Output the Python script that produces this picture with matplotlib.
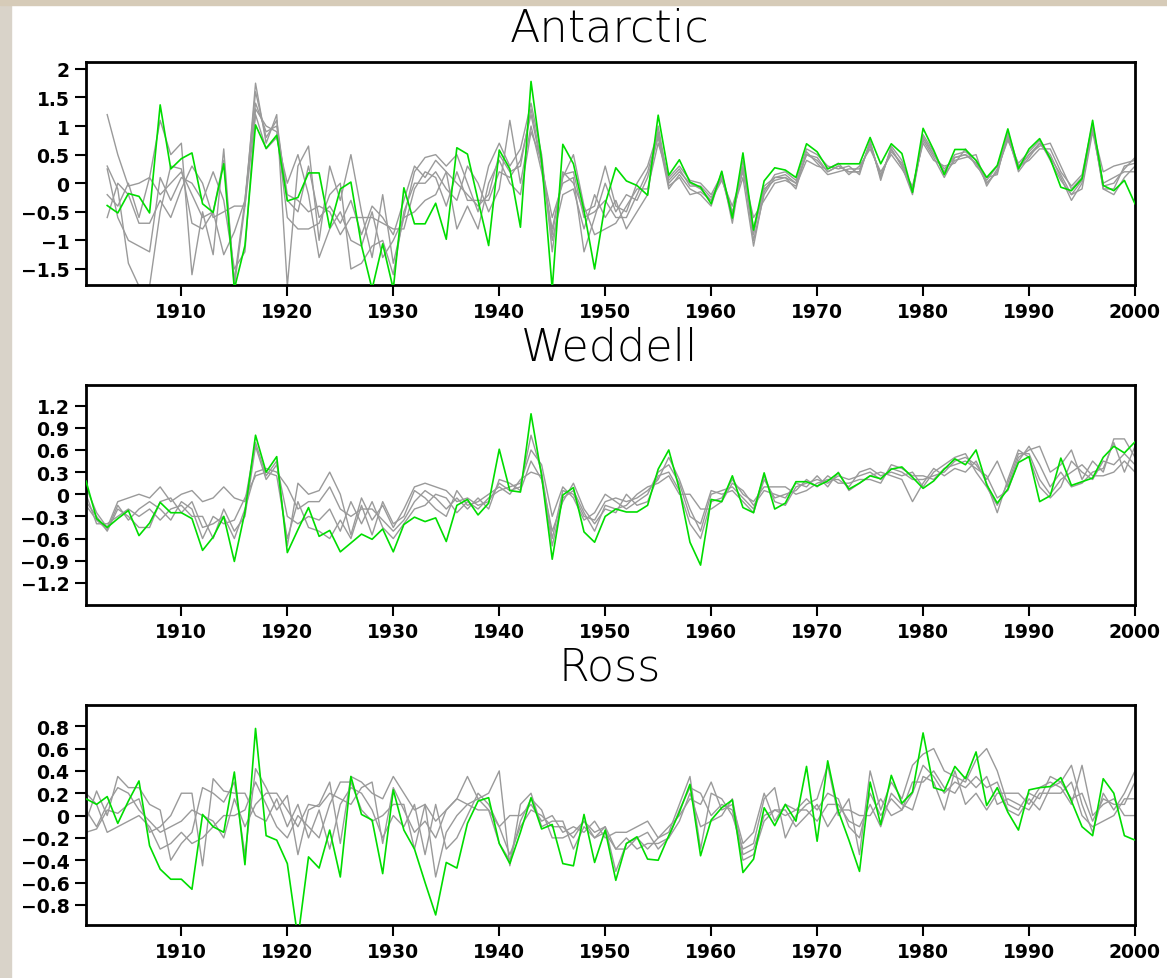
import numpy as np
import matplotlib
matplotlib.use('Agg')
import matplotlib.pyplot as plt
from matplotlib.patches import Rectangle

# ---- data ----
years_ant = np.arange(1903, 2001)
years_wr = np.arange(1901, 2001)

ant_green = [
    -0.39, -0.52, -0.18, -0.23, -0.52, 1.37, 0.25,
    0.43, 0.53, -0.36, -0.51, 0.34, -1.85, -1.09, 1.02, 0.61, 0.84,
    -0.31, -0.25, 0.18, 0.18, -0.78, -0.10, 0.02, -1.09, -1.85, -1.06,
    -1.85, -0.08, -0.71, -0.71, -0.35, -0.98, 0.62, 0.51, -0.30, -1.09,
    0.58, 0.25, -0.77, 1.78, 0.40, -1.85, 0.68, 0.34, -0.48, -1.50,
    -0.36, 0.27, 0.04, -0.04, -0.21, 1.19, 0.14, 0.41, 0.02, -0.07,
    -0.36, 0.21, -0.61, 0.53, -0.82, 0.04, 0.27, 0.23, 0.10, 0.69,
    0.55, 0.25, 0.34, 0.34, 0.34, 0.80, 0.34, 0.69, 0.52, -0.16,
    0.96, 0.58, 0.15, 0.59, 0.59, 0.40, 0.10, 0.31, 0.95, 0.25,
    0.60, 0.78, 0.43, -0.07, -0.13, 0.08, 1.10, -0.04, -0.13, 0.05,
    -0.36]

ant_gray1 = [
    1.2, 0.5, -0.05, 0.0, 0.1, 1.1, 0.5,
    0.7, -1.6, -0.5, -1.25, 0.6, -1.8, -0.4, 1.75, 0.7, 1.2,
    -1.8, 0.3, 0.65, -1.0, 0.3, -0.3, 0.5, -0.5, -1.3, -0.2,
    -1.4, -0.6, 0.2, 0.45, 0.5, 0.3, 0.5, 0.0, -0.5, 0.3,
    0.7, 0.3, 0.6, 1.4, 0.5, -1.2, 0.2, 0.0, -0.5, -0.4,
    0.3, -0.4, -0.5, 0.0, 0.3, 0.9, 0.0, 0.2, 0.0, -0.1,
    -0.3, 0.1, -0.6, 0.3, -1.0, -0.2, 0.1, 0.15, 0.0, 0.5,
    0.4, 0.2, 0.3, 0.2, 0.2, 0.7, 0.1, 0.6, 0.3, -0.2,
    0.8, 0.5, 0.2, 0.5, 0.55, 0.4, 0.0, 0.2, 0.85, 0.2,
    0.45, 0.7, 0.5, 0.1, -0.3, 0.0, 1.0, -0.1, -0.2, 0.1,
    0.3]
ant_gray2 = [
    0.3, -0.1, -1.4, -1.8, -1.8, -0.5, 0.3,
    0.25, -0.7, -0.8, -0.5, -1.25, -0.85, -0.3, 1.4, 0.9, 1.0,
    -0.2, -0.3, -0.5, -0.4, -0.5, -0.9, -0.6, -0.6, -0.6, -0.7,
    -0.8, -0.8, -0.1, 0.2, 0.1, -0.4, 0.2, -0.3, -0.3, -0.3,
    0.2, 0.1, 0.4, 1.2, 0.3, -0.6, 0.0, 0.1, -1.2, -0.6,
    0.0, -0.5, -0.2, -0.3, 0.1, 0.8, -0.1, 0.15, -0.1, -0.2,
    -0.4, 0.2, -0.7, 0.4, -0.8, -0.1, 0.05, 0.1, -0.1, 0.55,
    0.35, 0.15, 0.2, 0.25, 0.25, 0.65, 0.15, 0.55, 0.35, -0.1,
    0.75, 0.45, 0.1, 0.45, 0.5, 0.35, 0.05, 0.3, 0.8, 0.25,
    0.5, 0.65, 0.7, 0.3, -0.1, 0.1, 0.95, 0.2, 0.3, 0.35,
    0.4]
ant_gray3 = [
    0.25, -0.6, -1.0, -1.1, -1.2, 0.1, -0.3,
    0.1, 0.0, -0.3, 0.2, -0.3, -1.5, -1.2, 1.3, 1.0, 0.9,
    -0.6, -0.8, -0.8, -0.7, -0.2, 0.0, -1.5, -1.4, -1.1, -1.0,
    -1.6, -0.5, 0.0, 0.0, 0.2, -0.1, -0.3, 0.3, 0.0, -0.5,
    -0.1, 1.1, 0.0, 1.0, 0.2, -0.8, 0.1, 0.5, -0.4, -0.9,
    -0.8, -0.7, -0.4, -0.1, -0.1, 0.7, 0.1, 0.3, 0.05, 0.0,
    -0.2, 0.15, -0.5, 0.1, -1.1, -0.15, 0.15, 0.2, 0.05, 0.6,
    0.5, 0.3, 0.25, 0.3, 0.15, 0.75, 0.05, 0.65, 0.4, -0.15,
    0.85, 0.55, 0.15, 0.4, 0.45, 0.5, -0.05, 0.25, 0.75, 0.35,
    0.55, 0.75, 0.4, 0.05, -0.2, -0.1, 0.9, 0.0, 0.1, 0.2,
    0.2]
ant_gray4 = [
    -0.6, 0.0, -0.2, -0.7, -0.7, -0.3, -0.6,
    -0.1, 0.3, 0.0, -0.6, -0.5, -0.4, -0.4, 1.2, 0.6, 0.8,
    0.0, 0.5, -0.2, -1.3, -0.8, -0.5, -1.0, -1.1, -0.5, -1.3,
    -1.0, -0.6, -0.5, -0.3, -0.2, 0.2, -0.8, -0.4, -0.8, 0.0,
    0.4, 0.0, -0.2, 0.9, 0.4, -1.0, -0.2, -0.1, -0.8, -0.2,
    -0.6, -0.3, -0.8, -0.5, -0.2, 1.0, -0.05, 0.1, -0.2, -0.15,
    -0.3, 0.05, -0.4, 0.2, -0.6, -0.3, 0.0, 0.05, -0.05, 0.4,
    0.3, 0.25, 0.35, 0.15, 0.3, 0.6, 0.2, 0.5, 0.25, -0.05,
    0.7, 0.4, 0.3, 0.35, 0.6, 0.3, 0.1, 0.15, 0.9, 0.3,
    0.4, 0.6, 0.6, 0.2, -0.05, 0.15, 1.05, -0.05, 0.0, 0.25,
    0.45]
ant_gray5 = [
    -0.2, -0.4, 0.0, -0.6, 0.1, -0.2, 0.0,
    0.2, -0.2, -0.6, -0.5, 0.4, -1.7, -0.3, 1.6, 0.8, 1.1,
    -0.3, -0.5, 0.3, -0.6, -0.4, -0.7, -0.3, -0.9, -0.4, -0.6,
    -0.9, -0.3, 0.3, 0.1, 0.4, 0.2, 0.0, -0.2, -0.4, -0.2,
    0.5, 0.2, 0.3, 1.3, 0.35, -0.9, 0.15, 0.2, -0.6, -0.5,
    -0.3, -0.6, -0.6, -0.2, 0.2, 0.85, 0.05, 0.25, -0.05, -0.05,
    -0.25, 0.1, -0.55, 0.25, -0.9, -0.05, 0.1, 0.1, 0.0, 0.5,
    0.45, 0.2, 0.3, 0.2, 0.2, 0.7, 0.1, 0.6, 0.3, -0.15,
    0.8, 0.5, 0.25, 0.45, 0.5, 0.35, 0.0, 0.2, 0.8, 0.3,
    0.5, 0.7, 0.45, 0.15, -0.2, 0.05, 1.0, -0.1, -0.1, 0.3,
    0.35]

wed_green = [
    0.18, -0.33, -0.45, -0.33, -0.22, -0.56, -0.39, -0.11, -0.25,
    -0.25, -0.33, -0.76, -0.58, -0.30, -0.91, -0.24, 0.80, 0.30, 0.51,
    -0.79, -0.48, -0.18, -0.57, -0.49, -0.78, -0.66, -0.54, -0.61, -0.47,
    -0.78, -0.41, -0.31, -0.37, -0.32, -0.64, -0.15, -0.07, -0.28, -0.12,
    0.61, 0.05, 0.03, 1.09, 0.25, -0.88, -0.01, 0.09, -0.51, -0.65,
    -0.30, -0.20, -0.24, -0.24, -0.15, 0.34, 0.60, 0.07, -0.65, -0.96,
    -0.07, -0.10, 0.25, -0.18, -0.25, 0.29, -0.20, -0.12, 0.17, 0.17,
    0.11, 0.18, 0.29, 0.07, 0.15, 0.25, 0.21, 0.34, 0.37, 0.23,
    0.08, 0.18, 0.34, 0.48, 0.40, 0.60, 0.13, -0.12, 0.07, 0.43,
    0.51, -0.10, -0.02, 0.49, 0.12, 0.17, 0.22, 0.50, 0.65, 0.56,
    0.71]

wed_gray1 = [
    0.1, -0.25, -0.45, -0.1, -0.05, 0.0, -0.05, 0.1, -0.1,
    0.0, 0.05, -0.1, -0.05, 0.1, -0.05, -0.1, 0.7, 0.25, 0.45,
    -0.7, 0.15, 0.0, 0.05, 0.3, 0.0, -0.55, -0.05, -0.35, -0.15,
    -0.45, -0.2, 0.1, 0.15, 0.1, 0.05, -0.1, -0.05, -0.15, -0.1,
    0.15, 0.05, 0.1, 0.8, 0.3, -0.6, 0.05, 0.0, -0.3, -0.35,
    -0.1, -0.05, -0.1, -0.05, 0.05, 0.2, 0.5, 0.2, -0.2, -0.5,
    0.0, 0.05, 0.1, -0.05, -0.2, 0.25, -0.1, -0.15, 0.1, 0.15,
    0.2, 0.15, 0.25, 0.2, 0.25, 0.3, 0.2, 0.35, 0.3, 0.2,
    0.2, 0.25, 0.3, 0.45, 0.5, 0.4, 0.2, 0.45, 0.1, 0.5,
    0.6, 0.65, 0.3, 0.4, 0.6, 0.2, 0.45, 0.3, 0.75, 0.75,
    0.5]
wed_gray2 = [
    -0.1, -0.3, -0.5, -0.2, -0.3, -0.45, -0.45, -0.1, -0.05,
    -0.25, -0.1, -0.45, -0.4, -0.3, -0.6, -0.2, 0.3, 0.35, 0.3,
    0.1, -0.2, -0.1, -0.1, 0.1, -0.2, -0.3, -0.2, -0.2, -0.35,
    -0.5, -0.35, -0.1, 0.05, -0.05, -0.2, -0.05, -0.2, -0.05, -0.2,
    0.2, 0.15, 0.05, 0.45, 0.2, -0.5, -0.1, 0.15, -0.2, -0.4,
    -0.2, -0.25, 0.0, -0.15, -0.1, 0.25, 0.3, 0.05, -0.4, -0.6,
    -0.1, -0.05, 0.2, 0.0, -0.1, 0.1, 0.1, 0.1, 0.0, 0.05,
    0.15, 0.2, 0.2, 0.1, 0.3, 0.35, 0.25, 0.3, 0.25, 0.3,
    0.1, 0.3, 0.4, 0.5, 0.55, 0.3, 0.1, -0.15, 0.15, 0.55,
    0.55, 0.2, 0.0, 0.2, 0.3, 0.4, 0.25, 0.25, 0.3, 0.45,
    0.3]
wed_gray3 = [
    0.0, -0.4, -0.4, -0.3, -0.2, -0.3, -0.2, -0.35, -0.2,
    -0.15, -0.3, -0.3, -0.6, -0.2, -0.5, -0.3, 0.65, 0.2, 0.4,
    -0.3, -0.4, -0.3, -0.35, -0.2, -0.5, -0.1, -0.4, -0.1, -0.45,
    -0.6, -0.4, -0.2, -0.15, 0.0, -0.05, -0.25, -0.1, -0.2, -0.05,
    0.05, 0.1, 0.15, 0.6, 0.4, -0.3, 0.1, -0.05, -0.35, -0.25,
    0.0, -0.1, -0.2, -0.1, 0.0, 0.3, 0.4, 0.15, -0.3, -0.4,
    0.05, 0.0, 0.05, -0.1, -0.25, 0.2, -0.05, 0.0, 0.05, 0.2,
    0.1, 0.25, 0.15, 0.15, 0.2, 0.2, 0.15, 0.4, 0.35, 0.25,
    0.25, 0.2, 0.35, 0.4, 0.45, 0.35, 0.25, -0.05, 0.05, 0.45,
    0.65, 0.4, 0.1, 0.3, 0.1, 0.15, 0.3, 0.35, 0.7, 0.3,
    0.65]
wed_gray4 = [
    -0.15, -0.35, -0.48, -0.15, -0.35, -0.2, -0.1, -0.2, -0.35,
    -0.1, -0.2, -0.6, -0.3, -0.4, -0.35, -0.05, 0.25, 0.3, 0.25,
    -0.6, -0.1, -0.45, -0.5, -0.6, -0.35, -0.6, -0.15, -0.55, -0.1,
    -0.4, -0.3, 0.05, -0.05, -0.2, -0.3, 0.05, -0.15, -0.1, 0.0,
    0.1, 0.0, 0.2, 0.3, 0.25, -0.7, -0.05, 0.05, -0.25, -0.5,
    -0.15, -0.2, -0.15, 0.0, 0.1, 0.15, 0.25, 0.0, 0.0, -0.2,
    -0.2, -0.1, 0.15, 0.05, -0.15, 0.05, 0.0, -0.05, 0.15, 0.1,
    0.25, 0.1, 0.3, 0.05, 0.15, 0.25, 0.3, 0.25, 0.2, -0.1,
    0.15, 0.35, 0.25, 0.35, 0.3, 0.45, 0.15, -0.25, 0.2, 0.6,
    0.5, 0.1, -0.05, 0.1, 0.45, 0.3, 0.2, 0.45, 0.4, 0.55,
    0.4]

ross_green = [
    0.15, 0.10, 0.17, -0.07, 0.13, 0.31, -0.27, -0.48, -0.57,
    -0.57, -0.66, 0.01, -0.10, -0.15, 0.39, -0.44, 0.78, -0.18, -0.22,
    -0.43, -1.10, -0.37, -0.47, -0.13, -0.55, 0.35, 0.01, -0.04, -0.52,
    0.23, -0.13, -0.30, -0.60, -0.89, -0.42, -0.47, -0.07, 0.13, 0.16,
    -0.25, -0.43, -0.15, 0.16, -0.12, -0.08, -0.43, -0.45, 0.01, -0.42,
    -0.13, -0.58, -0.25, -0.19, -0.39, -0.40, -0.18, 0.03, 0.28, -0.36,
    -0.04, 0.07, 0.14, -0.51, -0.39, 0.07, -0.09, 0.10, -0.05, 0.44,
    -0.23, 0.49, 0.04, -0.22, -0.50, 0.30, -0.08, 0.36, 0.11, 0.21,
    0.74, 0.25, 0.22, 0.44, 0.33, 0.57, 0.09, 0.25, 0.03, -0.13,
    0.23, 0.25, 0.26, 0.34, 0.13, -0.10, -0.18, 0.33, 0.20, -0.18,
    -0.22]

ross_gray1 = [
    -0.05, 0.22, 0.0, 0.35, 0.25, 0.25, 0.1, 0.05, -0.4,
    -0.25, -0.15, 0.25, 0.2, 0.12, 0.3, -0.35, 0.42, 0.25, 0.05,
    0.18, -0.35, 0.05, 0.1, 0.3, -0.25, 0.35, 0.3, 0.2, 0.15,
    0.35, 0.2, 0.05, 0.1, -0.05, 0.05, 0.15, 0.35, 0.15, 0.2,
    0.4, -0.45, 0.1, 0.2, -0.1, -0.05, -0.05, -0.3, -0.1, -0.2,
    -0.1, -0.5, -0.25, -0.2, -0.3, -0.2, -0.15, 0.1, 0.35, -0.3,
    0.2, 0.15, 0.0, -0.3, -0.25, 0.15, 0.25, -0.2, 0.0, 0.1,
    0.15, 0.45, 0.0, 0.15, -0.35, 0.4, 0.05, 0.3, 0.15, 0.45,
    0.55, 0.6, 0.4, 0.35, 0.3, 0.5, 0.6, 0.4, 0.1, 0.05,
    0.2, 0.15, 0.35, 0.3, 0.45, 0.1, -0.15, 0.2, 0.05, 0.2,
    0.4]
ross_gray2 = [
    -0.15, -0.12, 0.05, 0.02, 0.1, 0.15, -0.15, -0.1, 0.0,
    0.2, 0.2, -0.45, 0.33, 0.22, 0.2, 0.2, 0.0, -0.05, 0.15,
    -0.1, 0.1, -0.2, 0.05, -0.3, 0.1, 0.25, 0.2, 0.05, -0.2,
    0.0, -0.1, 0.1, -0.35, 0.1, -0.3, -0.2, 0.0, 0.2, 0.1,
    -0.1, 0.0, 0.0, 0.1, -0.05, 0.0, -0.15, -0.1, -0.15, -0.05,
    -0.2, -0.15, -0.15, -0.1, -0.05, -0.2, -0.1, 0.0, 0.15, 0.1,
    0.3, 0.05, 0.1, -0.25, -0.15, 0.2, -0.05, 0.1, 0.05, 0.05,
    -0.05, 0.1, 0.1, -0.05, -0.1, 0.1, -0.1, 0.2, 0.1, 0.05,
    0.35, 0.3, 0.05, 0.4, 0.1, 0.2, 0.05, 0.2, 0.2, 0.2,
    0.1, 0.25, 0.3, 0.25, 0.1, 0.45, 0.0, 0.1, 0.15, 0.0,
    0.0]
ross_gray3 = [
    0.05, -0.1, 0.1, 0.25, 0.2, 0.05, -0.05, -0.15, -0.1,
    -0.05, 0.05, 0.0, -0.05, -0.2, 0.15, -0.1, 0.1, 0.2, 0.2,
    0.05, -0.1, 0.1, 0.08, 0.2, 0.15, 0.1, 0.25, 0.3, -0.25,
    0.25, 0.05, -0.15, -0.05, -0.2, 0.05, 0.15, 0.1, 0.05, 0.05,
    -0.25, -0.4, -0.05, 0.15, 0.05, -0.2, -0.2, -0.15, -0.05, -0.2,
    -0.15, -0.3, -0.2, -0.3, -0.25, -0.25, -0.2, 0.05, 0.25, 0.2,
    0.0, 0.1, 0.05, -0.4, -0.35, -0.05, 0.05, 0.05, -0.1, 0.0,
    0.1, -0.1, 0.05, 0.05, 0.0, 0.0, 0.15, 0.0, 0.05, 0.3,
    0.3, 0.4, 0.25, 0.2, 0.35, 0.25, 0.35, 0.1, 0.15, 0.1,
    0.05, 0.2, 0.2, 0.2, 0.3, 0.0, -0.1, -0.05, 0.0, 0.15,
    0.15]
ross_gray4 = [
    0.2, 0.1, -0.15, -0.1, -0.05, 0.0, -0.1, -0.3, -0.25,
    -0.15, -0.25, -0.2, -0.1, 0.0, 0.0, 0.05, 0.3, 0.1, -0.1,
    -0.2, 0.0, -0.1, -0.2, 0.1, 0.3, 0.3, 0.05, -0.05, 0.0,
    0.1, 0.1, -0.3, 0.1, -0.55, -0.15, 0.0, 0.1, 0.15, 0.05,
    -0.1, -0.35, -0.1, 0.05, 0.0, -0.1, -0.1, -0.2, -0.05, -0.15,
    -0.1, -0.3, -0.3, -0.2, -0.15, -0.3, -0.2, -0.05, 0.2, -0.1,
    -0.05, 0.0, 0.15, -0.35, -0.3, 0.0, 0.05, 0.0, 0.05, 0.15,
    0.05, 0.2, 0.15, -0.1, -0.2, 0.2, 0.0, 0.15, 0.05, 0.2,
    0.45, 0.35, 0.2, 0.3, 0.25, 0.35, 0.25, 0.3, 0.05, 0.0,
    0.15, 0.05, 0.25, 0.3, 0.15, 0.2, -0.05, 0.15, 0.1, 0.1,
    0.3]

titles = ['Antarctic', 'Weddell', 'Ross']
ant_ticks = [-1.5, -1, -0.5, 0, 0.5, 1, 1.5, 2]
ant_ticklabels = ['\u22121.5', '\u22121', '\u22120.5', '0', '0.5', '1', '1.5', '2']
wed_ticks = [-1.2, -0.9, -0.6, -0.3, 0, 0.3, 0.6, 0.9, 1.2]
wed_ticklabels = ['\u22121.2', '\u22120.9', '\u22120.6', '\u22120.3', '0', '0.3', '0.6', '0.9', '1.2']
ross_ticks = [-0.8, -0.6, -0.4, -0.2, 0, 0.2, 0.4, 0.6, 0.8]
ross_ticklabels = ['\u22120.8', '\u22120.6', '\u22120.4', '\u22120.2', '0', '0.2', '0.4', '0.6', '0.8']
year_ticks = [1910, 1920, 1930, 1940, 1950, 1960, 1970, 1980, 1990, 2000]

W, H = 1167, 979
fig = plt.figure(figsize=(W / 100, H / 100), dpi=100, facecolor='white')

# faint textured border of the page, left and top
fig.patches.append(Rectangle((0, 0), 11 / W, 1, transform=fig.transFigure,
                             color='#d9d3c9', zorder=0))
fig.patches.append(Rectangle((0, 1 - 6 / H), 1, 6 / H, transform=fig.transFigure,
                             color='#d6cbb8', zorder=0))

panels = [
    (titles[0], years_ant, ant_green, [ant_gray1, ant_gray2, ant_gray3, ant_gray4, ant_gray5],
     ant_ticks, ant_ticklabels, (-1.78, 2.12), 63, 286, 29),
    (titles[1], years_wr, wed_green, [wed_gray1, wed_gray2, wed_gray3, wed_gray4],
     wed_ticks, wed_ticklabels, (-1.5, 1.48), 386, 606, 348),
    (titles[2], years_wr, ross_green, [ross_gray1, ross_gray2, ross_gray3, ross_gray4],
     ross_ticks, ross_ticklabels, (-0.98, 0.99), 706, 926, 668),
]

left, right = 86, 1135
for title, yrs, green, grays, yt, ytl, ylim, top, bot, ty in panels:
    ax = fig.add_axes([left / W, 1 - bot / H, (right - left) / W, (bot - top) / H])
    for g in grays:
        ax.plot(yrs, g, color='#9a9a9a', lw=1.0, zorder=2)
    ax.plot(yrs, green, color='#00dd00', lw=1.2, zorder=3)
    ax.set_xlim(1901, 2000)
    ax.set_ylim(*ylim)
    ax.set_xticks(year_ticks)
    ax.set_yticks(yt)
    ax.set_yticklabels(ytl)
    ax.tick_params(axis='both', direction='out', length=8, width=1.5,
                   labelsize=13.5, pad=4)
    for lab in ax.get_xticklabels() + ax.get_yticklabels():
        lab.set_fontweight('bold')
    for sp in ax.spines.values():
        sp.set_linewidth(2)
    ax.set_facecolor('white')
    fig.text(610 / W, 1 - ty / H, title, ha='center', va='center',
             fontsize=32, fontweight='ultralight', color='black')

fig.savefig('out.png', dpi=100, facecolor=fig.get_facecolor())
